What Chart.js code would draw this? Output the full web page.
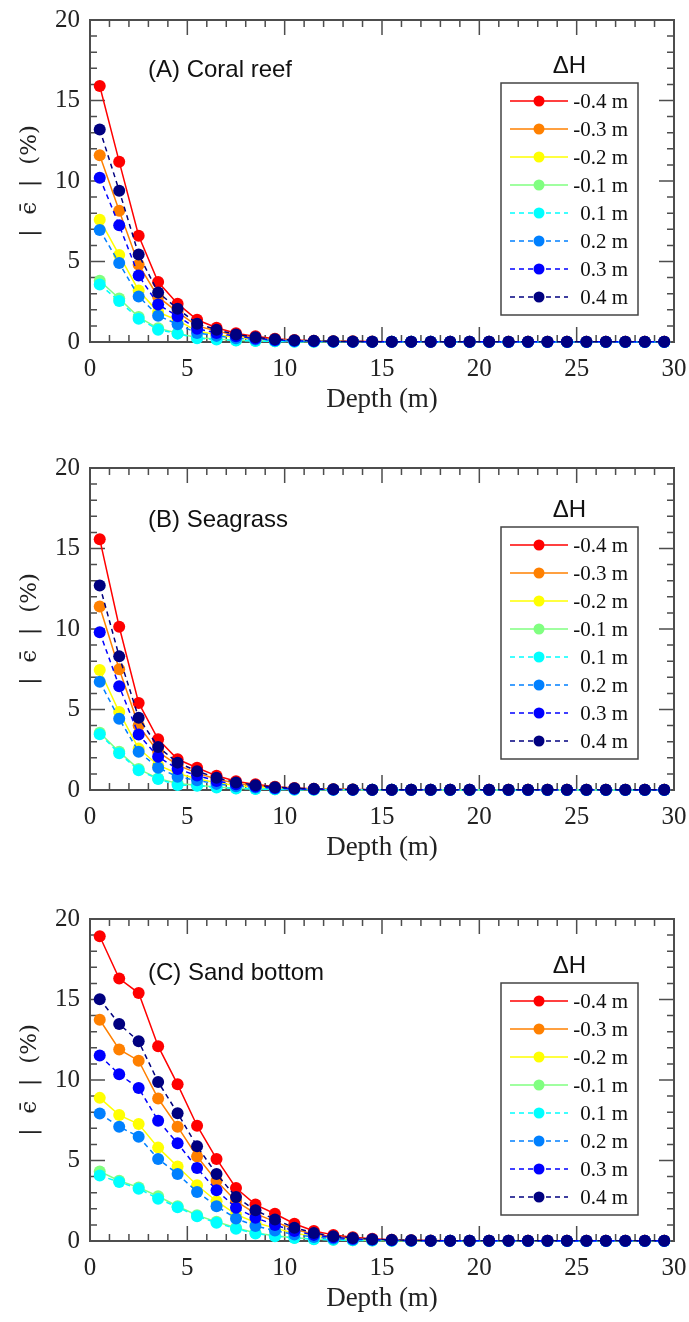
<!DOCTYPE html>
<html>
<head>
<meta charset="utf-8">
<script src="https://cdn.jsdelivr.net/npm/chart.js@4.4.0/dist/chart.umd.min.js"></script>
<style>
  body { margin: 0; background: #fff; width: 689px; height: 1322px; position: relative; overflow: hidden; }
  canvas { position: absolute; left: 0; }
</style>
</head>
<body>
<canvas id="chartA" width="689" height="420" style="top:0px"></canvas>
<canvas id="chartB" width="689" height="420" style="top:448px"></canvas>
<canvas id="chartC" width="689" height="420" style="top:899px"></canvas>
<script>
// depth bins (m)
const depths = [0.5, 1.5, 2.5, 3.5, 4.5, 5.5, 6.5, 7.5, 8.5, 9.5, 10.5, 11.5, 12.5, 13.5, 14.5,
                15.5, 16.5, 17.5, 18.5, 19.5, 20.5, 21.5, 22.5, 23.5, 24.5, 25.5, 26.5, 27.5, 28.5, 29.5];
const seriesLabels = ['-0.4 m', '-0.3 m', '-0.2 m', '-0.1 m', '0.1 m', '0.2 m', '0.3 m', '0.4 m'];
const xTicks = [0, 5, 10, 15, 20, 25, 30];
const yTicks = [0, 5, 10, 15, 20];

// (A) Coral reef
const coralNeg04 = [15.9, 11.2, 6.6, 3.72, 2.38, 1.38, 0.89, 0.55, 0.35, 0.2, 0.12, 0.08, 0.05, 0.04, 0.03, 0.02, 0.02, 0.01, 0.01, 0.01, 0.01, 0.01, 0.01, 0.01, 0.01, 0.01, 0.01, 0.01, 0.01, 0.01];
const coralNeg03 = [11.6, 8.15, 4.8, 2.8, 1.86, 1.0, 0.68, 0.42, 0.27, 0.16, 0.1, 0.06, 0.04, 0.03, 0.02, 0.02, 0.01, 0.01, 0.01, 0.01, 0.01, 0.01, 0.01, 0.01, 0.01, 0.01, 0.01, 0.01, 0.01, 0.01];
const coralNeg02 = [7.6, 5.4, 3.2, 1.86, 1.34, 0.68, 0.45, 0.28, 0.18, 0.11, 0.07, 0.04, 0.03, 0.02, 0.01, 0.01, 0.01, 0.01, 0.01, 0.01, 0.01, 0.01, 0.01, 0.01, 0.01, 0.01, 0.01, 0.01, 0.01, 0.01];
const coralNeg01 = [3.8, 2.7, 1.55, 0.85, 0.55, 0.27, 0.18, 0.11, 0.07, 0.04, 0.03, 0.02, 0.01, 0.01, 0.01, 0.01, 0.01, 0.01, 0.01, 0.01, 0, 0, 0, 0, 0, 0, 0, 0, 0, 0];
const coralPos01 = [3.57, 2.54, 1.45, 0.76, 0.52, 0.23, 0.16, 0.1, 0.06, 0.04, 0.02, 0.01, 0.01, 0.01, 0.01, 0.01, 0.01, 0.01, 0, 0, 0, 0, 0, 0, 0, 0, 0, 0, 0, 0];
const coralPos02 = [6.96, 4.9, 2.83, 1.63, 1.1, 0.56, 0.38, 0.24, 0.15, 0.09, 0.06, 0.04, 0.02, 0.02, 0.01, 0.01, 0.01, 0.01, 0.01, 0.01, 0.01, 0, 0, 0, 0, 0, 0, 0, 0, 0];
const coralPos03 = [10.2, 7.25, 4.13, 2.33, 1.6, 0.83, 0.56, 0.35, 0.22, 0.13, 0.08, 0.05, 0.03, 0.02, 0.01, 0.01, 0.01, 0.01, 0.01, 0.01, 0.01, 0.01, 0.01, 0.01, 0.01, 0.01, 0.01, 0.01, 0.01, 0.01];
const coralPos04 = [13.2, 9.4, 5.43, 3.08, 2.07, 1.14, 0.76, 0.47, 0.3, 0.17, 0.11, 0.07, 0.04, 0.03, 0.02, 0.01, 0.01, 0.01, 0.01, 0.01, 0.01, 0.01, 0.01, 0.01, 0.01, 0.01, 0.01, 0.01, 0.01, 0.01];

// (B) Seagrass
const grassNeg04 = [15.58, 10.14, 5.41, 3.15, 1.91, 1.38, 0.88, 0.55, 0.35, 0.2, 0.12, 0.08, 0.05, 0.03, 0.02, 0.02, 0.01, 0.01, 0.01, 0.01, 0.01, 0.01, 0.01, 0.01, 0.01, 0.01, 0.01, 0.01, 0.01, 0.01];
const grassNeg03 = [11.4, 7.5, 4.0, 2.37, 1.54, 1.05, 0.68, 0.42, 0.27, 0.16, 0.1, 0.06, 0.04, 0.03, 0.02, 0.01, 0.01, 0.01, 0.01, 0.01, 0.01, 0.01, 0.01, 0.01, 0.01, 0.01, 0.01, 0.01, 0.01, 0.01];
const grassNeg02 = [7.45, 4.84, 2.57, 1.54, 1.03, 0.7, 0.45, 0.28, 0.18, 0.11, 0.07, 0.04, 0.03, 0.02, 0.01, 0.01, 0.01, 0.01, 0.01, 0.01, 0.01, 0.01, 0.01, 0.01, 0.01, 0.01, 0.01, 0.01, 0.01, 0.01];
const grassNeg01 = [3.56, 2.37, 1.3, 0.72, 0.41, 0.3, 0.18, 0.11, 0.07, 0.04, 0.03, 0.02, 0.01, 0.01, 0.01, 0.01, 0.01, 0.01, 0, 0, 0, 0, 0, 0, 0, 0, 0, 0, 0, 0];
const grassPos01 = [3.46, 2.28, 1.23, 0.68, 0.31, 0.27, 0.16, 0.1, 0.06, 0.04, 0.02, 0.01, 0.01, 0.01, 0.01, 0.01, 0, 0, 0, 0, 0, 0, 0, 0, 0, 0, 0, 0, 0, 0];
const grassPos02 = [6.73, 4.42, 2.37, 1.38, 0.82, 0.6, 0.38, 0.24, 0.15, 0.09, 0.06, 0.04, 0.02, 0.01, 0.01, 0.01, 0.01, 0.01, 0.01, 0.01, 0, 0, 0, 0, 0, 0, 0, 0, 0, 0];
const grassPos03 = [9.8, 6.44, 3.44, 2.06, 1.3, 0.9, 0.56, 0.35, 0.22, 0.13, 0.08, 0.05, 0.03, 0.02, 0.01, 0.01, 0.01, 0.01, 0.01, 0.01, 0.01, 0.01, 0.01, 0.01, 0.01, 0.01, 0.01, 0.01, 0.01, 0.01];
const grassPos04 = [12.7, 8.3, 4.49, 2.67, 1.7, 1.17, 0.76, 0.47, 0.3, 0.17, 0.11, 0.07, 0.04, 0.03, 0.02, 0.01, 0.01, 0.01, 0.01, 0.01, 0.01, 0.01, 0.01, 0.01, 0.01, 0.01, 0.01, 0.01, 0.01, 0.01];

// (C) Sand bottom
const sandNeg04 = [18.93, 16.3, 15.4, 12.1, 9.73, 7.16, 5.1, 3.29, 2.26, 1.69, 1.07, 0.62, 0.38, 0.24, 0.14, 0.08, 0.05, 0.03, 0.02, 0.01, 0.01, 0.01, 0.01, 0.01, 0.01, 0.01, 0.01, 0.01, 0.01, 0.01];
const sandNeg03 = [13.74, 11.9, 11.2, 8.85, 7.1, 5.25, 3.74, 2.47, 1.7, 1.2, 0.72, 0.44, 0.27, 0.17, 0.1, 0.06, 0.04, 0.02, 0.01, 0.01, 0.01, 0.01, 0.01, 0.01, 0.01, 0.01, 0.01, 0.01, 0.01, 0.01];
const sandNeg02 = [8.89, 7.82, 7.26, 5.8, 4.63, 3.46, 2.47, 1.65, 1.15, 0.8, 0.48, 0.3, 0.18, 0.11, 0.07, 0.04, 0.02, 0.01, 0.01, 0.01, 0.01, 0.01, 0.01, 0.01, 0.01, 0.01, 0.01, 0.01, 0.01, 0.01];
const sandNeg01 = [4.32, 3.74, 3.33, 2.78, 2.16, 1.6, 1.19, 0.82, 0.5, 0.33, 0.2, 0.12, 0.07, 0.05, 0.03, 0.02, 0.01, 0.01, 0.01, 0.01, 0, 0, 0, 0, 0, 0, 0, 0, 0, 0];
const sandPos01 = [4.07, 3.66, 3.25, 2.63, 2.1, 1.54, 1.13, 0.76, 0.47, 0.3, 0.19, 0.11, 0.07, 0.04, 0.03, 0.02, 0.01, 0.01, 0.01, 0, 0, 0, 0, 0, 0, 0, 0, 0, 0, 0];
const sandPos02 = [7.92, 7.1, 6.48, 5.1, 4.16, 3.05, 2.16, 1.4, 0.93, 0.65, 0.4, 0.25, 0.15, 0.09, 0.06, 0.03, 0.02, 0.01, 0.01, 0.01, 0.01, 0.01, 0, 0, 0, 0, 0, 0, 0, 0];
const sandPos03 = [11.52, 10.35, 9.5, 7.47, 6.07, 4.53, 3.15, 2.06, 1.44, 1.0, 0.62, 0.38, 0.23, 0.14, 0.09, 0.05, 0.03, 0.02, 0.01, 0.01, 0.01, 0.01, 0.01, 0.01, 0.01, 0.01, 0.01, 0.01, 0.01, 0.01];
const sandPos04 = [15.02, 13.48, 12.4, 9.88, 7.94, 5.88, 4.16, 2.74, 1.91, 1.34, 0.82, 0.5, 0.3, 0.18, 0.11, 0.07, 0.04, 0.02, 0.01, 0.01, 0.01, 0.01, 0.01, 0.01, 0.01, 0.01, 0.01, 0.01, 0.01, 0.01];

// jet-like colours, solid for negative dH, dashed for positive
const seriesColors = ['#ff0000', '#ff8000', '#ffff00', '#80ff80', '#00ffff', '#0080ff', '#0000ff', '#000080'];
const seriesDash = [[], [], [], [], [5, 4], [5, 4], [5, 4], [5, 4]];

const serif = 'Liberation Serif, Times New Roman, serif';
const sans = 'Liberation Sans, Arial, sans-serif';

// frame and inward ticks on all four sides
const axisFrame = {
  id: 'axisFrame',
  beforeDatasetsDraw(chart) {
    const { ctx, chartArea: a, scales: { x, y } } = chart;
    ctx.save();
    ctx.strokeStyle = '#4d4d4d';
    ctx.lineWidth = 1.5;
    ctx.beginPath();
    for (let v = 1; v < 30; v++) {
      const px = x.getPixelForValue(v);
      const len = v % 5 === 0 ? 15 : 7;
      ctx.moveTo(px, a.bottom); ctx.lineTo(px, a.bottom - len);
      ctx.moveTo(px, a.top); ctx.lineTo(px, a.top + len);
    }
    for (let v = 1; v < 20; v++) {
      const py = y.getPixelForValue(v);
      const len = v % 5 === 0 ? 15 : 7;
      ctx.moveTo(a.left, py); ctx.lineTo(a.left + len, py);
      ctx.moveTo(a.right, py); ctx.lineTo(a.right - len, py);
    }
    ctx.stroke();
    ctx.lineWidth = 2;
    ctx.strokeRect(a.left, a.top, a.right - a.left, a.bottom - a.top);
    ctx.restore();
  }
};

// boxed legend inside the plot, plus panel label
const boxLegend = {
  id: 'boxLegend',
  afterDatasetsDraw(chart, args, opts) {
    const { ctx, chartArea: a } = chart;
    ctx.save();
    ctx.fillStyle = '#111';
    ctx.font = '24px ' + sans;
    ctx.textAlign = 'left';
    ctx.textBaseline = 'middle';
    ctx.fillText(opts.panel, a.left + 58, a.top + opts.panelDy);

    const bw = 137, bh = 232;
    const bx = a.right - 173, by = a.top + opts.boxDy;
    ctx.textAlign = 'center';
    ctx.fillText('\u0394H', bx + bw / 2, by - 17);
    ctx.fillStyle = '#fff';
    ctx.fillRect(bx, by, bw, bh);
    ctx.strokeStyle = '#444';
    ctx.lineWidth = 1.5;
    ctx.strokeRect(bx, by, bw, bh);

    chart.data.datasets.forEach((ds, i) => {
      const yy = by + 18 + i * 28;
      ctx.strokeStyle = ds.borderColor;
      ctx.lineWidth = 1.5;
      ctx.setLineDash(ds.borderDash);
      ctx.beginPath();
      ctx.moveTo(bx + 9, yy); ctx.lineTo(bx + 67, yy);
      ctx.stroke();
      ctx.setLineDash([]);
      ctx.fillStyle = ds.backgroundColor;
      ctx.beginPath();
      ctx.arc(bx + 38, yy, 5.5, 0, Math.PI * 2);
      ctx.fill();
      ctx.fillStyle = '#111';
      ctx.font = '21px ' + serif;
      ctx.textAlign = 'right';
      ctx.fillText(ds.label, bx + 127, yy + 1);
    });
    ctx.restore();
  }
};

function makePanel(id, panel, panelDy, boxDy, rows) {
  const datasets = rows.map((vals, i) => ({
    label: seriesLabels[i],
    data: depths.map((d, k) => ({ x: d, y: vals[k] })),
    borderColor: seriesColors[i],
    backgroundColor: seriesColors[i],
    borderDash: seriesDash[i],
    borderWidth: 1.5,
    pointRadius: 6,
    pointBorderWidth: 0,
    pointBackgroundColor: seriesColors[i],
    tension: 0,
    clip: false,
    order: rows.length - 1 - i
  }));

  new Chart(document.getElementById(id).getContext('2d'), {
    type: 'line',
    data: { datasets: datasets },
    options: {
      responsive: false,
      animation: false,
      layout: { padding: { top: 20, right: 15, left: 0, bottom: 0 } },
      plugins: {
        legend: { display: false },
        tooltip: { enabled: false },
        boxLegend: { panel: panel, panelDy: panelDy, boxDy: boxDy }
      },
      scales: {
        x: {
          type: 'linear', min: 0, max: 30,
          afterBuildTicks: s => { s.ticks = xTicks.map(v => ({ value: v })); },
          afterFit: s => { s.height = 78; s.paddingLeft = 0; s.paddingRight = 0; },
          grid: { display: false, drawTicks: false },
          border: { display: false },
          ticks: { color: '#222', padding: 12, font: { family: serif, size: 25 } },
          title: { display: true, text: 'Depth (m)', color: '#222', padding: { top: 0, bottom: 4 }, font: { family: serif, size: 27 } }
        },
        y: {
          min: 0, max: 20,
          afterBuildTicks: s => { s.ticks = yTicks.map(v => ({ value: v })); },
          afterFit: s => { s.width = 90; s.paddingTop = 0; s.paddingBottom = 0; },
          grid: { display: false, drawTicks: false },
          border: { display: false },
          ticks: { color: '#222', padding: 10, font: { family: serif, size: 25 } },
          title: { display: true, text: '|  \u03f5\u0304  |  (%)', color: '#222', padding: { top: 16, bottom: 0 }, font: { family: 'DejaVu Serif', size: 23 } }
        }
      }
    },
    plugins: [axisFrame, boxLegend]
  });
}

document.addEventListener('DOMContentLoaded', () => {
  makePanel('chartA', '(A) Coral reef', 50, 63,
    [coralNeg04, coralNeg03, coralNeg02, coralNeg01, coralPos01, coralPos02, coralPos03, coralPos04]);
  makePanel('chartB', '(B) Seagrass', 52, 59,
    [grassNeg04, grassNeg03, grassNeg02, grassNeg01, grassPos01, grassPos02, grassPos03, grassPos04]);
  makePanel('chartC', '(C) Sand bottom', 54, 64,
    [sandNeg04, sandNeg03, sandNeg02, sandNeg01, sandPos01, sandPos02, sandPos03, sandPos04]);
});
</script>
</body>
</html>
